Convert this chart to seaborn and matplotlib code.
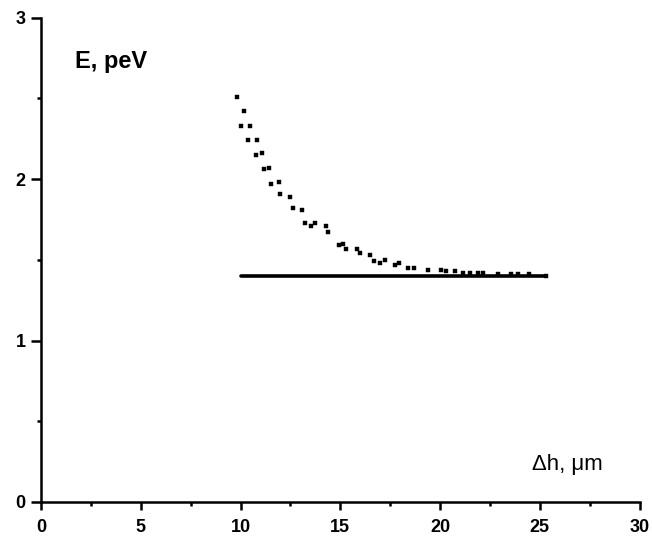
import numpy as np
import pandas as pd
import matplotlib
matplotlib.use("Agg")
import matplotlib.pyplot as plt
import seaborn as sns
from matplotlib.ticker import MultipleLocator

sns.set_theme(style="ticks")
plt.rcParams['font.family'] = ['Liberation Sans', 'DejaVu Sans']
plt.rcParams['text.color'] = 'black'

# dotted curve: E(dh)
dh_pts = [9.84, 10.18, 10.02, 10.47, 10.38, 10.80, 10.76, 11.09, 11.16, 11.41,
          11.54, 11.92, 11.97, 12.50, 12.62, 13.06, 13.23, 13.53, 13.73, 14.27,
          14.36, 14.94, 15.15, 15.27, 15.81, 15.98, 16.51, 16.68, 17.01, 17.22,
          17.75, 17.92, 18.38, 18.71, 19.37, 20.04, 20.32, 20.73, 21.15, 21.48,
          21.89, 22.14, 22.89, 23.55, 23.88, 24.46, 25.29]
e_pts = [2.51, 2.42, 2.33, 2.33, 2.24, 2.24, 2.15, 2.16, 2.06, 2.07,
         1.97, 1.98, 1.91, 1.89, 1.82, 1.81, 1.73, 1.71, 1.73, 1.71,
         1.67, 1.59, 1.60, 1.57, 1.57, 1.54, 1.53, 1.49, 1.48, 1.50,
         1.47, 1.48, 1.45, 1.45, 1.44, 1.44, 1.43, 1.43, 1.42, 1.42,
         1.42, 1.42, 1.41, 1.41, 1.41, 1.41, 1.40]

# solid line: constant level
dh_line = [10.0, 25.2]
e_line = [1.4, 1.4]

df_pts = pd.DataFrame({'dh': dh_pts, 'E': e_pts})
df_line = pd.DataFrame({'dh': dh_line, 'E': e_line})

fig = plt.figure(figsize=(6.52, 5.38), dpi=100)
ax = fig.add_axes([0.063, 0.067, 0.918, 0.90])

sns.lineplot(data=df_line, x='dh', y='E', color='black', lw=2.6, ax=ax)
sns.scatterplot(data=df_pts, x='dh', y='E', color='black', marker='s', s=9,
                edgecolor='black', linewidth=0.3, ax=ax)

ax.set_xlim(0, 30)
ax.set_ylim(0, 3)
ax.xaxis.set_major_locator(MultipleLocator(5))
ax.xaxis.set_minor_locator(MultipleLocator(2.5))
ax.yaxis.set_major_locator(MultipleLocator(1))
ax.yaxis.set_minor_locator(MultipleLocator(0.5))
ax.tick_params(which='both', direction='out', colors='black', width=1.8, labelsize=13)
ax.tick_params(axis='x', which='major', length=6, pad=6)
ax.tick_params(axis='y', which='major', length=7, pad=4)
ax.tick_params(which='minor', length=3)
for lab in ax.get_xticklabels() + ax.get_yticklabels():
    lab.set_fontweight('bold')

sns.despine(ax=ax)
for s in ['left', 'bottom']:
    ax.spines[s].set_linewidth(1.8)
    ax.spines[s].set_color('black')
ax.set_xlabel('')
ax.set_ylabel('')

ax.text(1.69, 2.73, 'E, peV', fontsize=17, fontweight='bold', va='center', ha='left')
ax.text(24.6, 0.23, 'Δh, μm', fontsize=16, va='center', ha='left')

fig.savefig('out.png', dpi=100)
